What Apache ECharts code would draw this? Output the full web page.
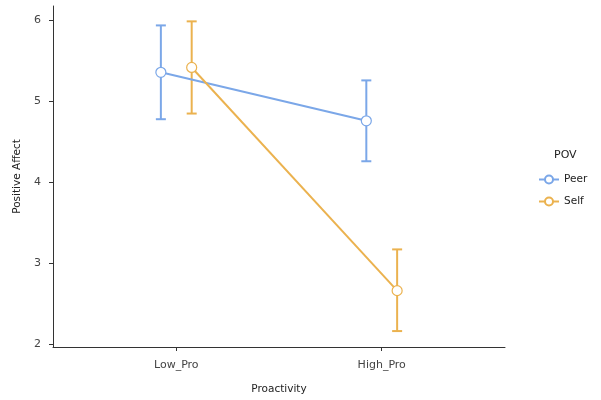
<!DOCTYPE html>
<html><head><meta charset="utf-8">
<script src="https://cdn.jsdelivr.net/npm/echarts@6/dist/echarts.min.js"></script>
<style>html,body{margin:0;padding:0;background:#fff}#c{width:601px;height:400px}</style>
</head><body><div id="c"></div>
<script>
var categories = ['Low_Pro', 'High_Pro'];
var seriesNames = ['Peer', 'Self'];
var peerMean = [5.36, 4.76];
var peerLow = [4.78, 4.26];
var peerHigh = [5.94, 5.26];
var selfMean = [5.42, 2.66];
var selfLow = [4.85, 2.16];
var selfHigh = [5.99, 3.17];
var yTicks = [2, 3, 4, 5, 6];
var dodge = [-0.075, 0.075];
var colors = ['#7ba7e8', '#ebb24f'];

var means = [peerMean, selfMean], lows = [peerLow, selfLow], highs = [peerHigh, selfHigh];
var FONT = 'DejaVu Sans';
var chart = echarts.init(document.getElementById('c'));
var series = [];
seriesNames.forEach(function (name, s) {
  var errData = categories.map(function (c, i) { return [i + 1 + dodge[s], lows[s][i], highs[s][i]]; });
  series.push({
    type: 'custom', name: name + '_err', z: 2, silent: true,
    data: errData,
    renderItem: function (params, api) {
      var x = api.value(0);
      var lo = api.coord([x, api.value(1)]);
      var hi = api.coord([x, api.value(2)]);
      var st = { stroke: colors[s], lineWidth: 2 };
      return { type: 'group', children: [
        { type: 'line', shape: { x1: lo[0], y1: lo[1], x2: hi[0], y2: hi[1] }, style: st },
        { type: 'line', shape: { x1: lo[0] - 5, y1: lo[1], x2: lo[0] + 5, y2: lo[1] }, style: st },
        { type: 'line', shape: { x1: hi[0] - 5, y1: hi[1], x2: hi[0] + 5, y2: hi[1] }, style: st }
      ]};
    }
  });
  series.push({
    type: 'line', name: name, z: 3,
    data: categories.map(function (c, i) { return [i + 1 + dodge[s], means[s][i]]; }),
    symbol: 'circle', symbolSize: 10, showSymbol: true,
    lineStyle: { color: colors[s], width: 2 },
    itemStyle: { color: '#fff', borderColor: colors[s], borderWidth: 1.2 },
    emphasis: { disabled: true }, animation: false
  });
});

chart.setOption({
  animation: false,
  grid: { left: 53, right: 96, top: 6, bottom: 48 },
  title: { text: 'POV', left: 549, top: 145, textStyle: { fontFamily: FONT, fontSize: 11, fontWeight: 'normal', color: '#222' } },
  legend: {
    data: seriesNames, orient: 'vertical', left: 533, top: 169, itemGap: 11,
    itemWidth: 20, itemHeight: 10,
    textStyle: { fontFamily: FONT, fontSize: 10.5, color: '#222' }
  },
  xAxis: {
    type: 'value', min: 0.4, max: 2.6,
    name: 'Proactivity', nameLocation: 'middle', nameGap: 37,
    nameTextStyle: { fontFamily: FONT, fontSize: 10.5, color: '#222' },
    splitLine: { show: false },
    axisLine: { lineStyle: { color: '#333', width: 1 } },
    axisTick: { customValues: [1, 2], length: 4, lineStyle: { color: '#333' } },
    axisLabel: { customValues: [1, 2], fontFamily: FONT, fontSize: 11, color: '#444', margin: 13,
      formatter: function (v) { return categories[Math.round(v) - 1] || ''; } }
  },
  yAxis: {
    type: 'value', min: 1.963, max: 6.18,
    name: 'Positive Affect', nameLocation: 'middle', nameGap: 28, nameRotate: 90,
    nameTextStyle: { fontFamily: FONT, fontSize: 10.5, color: '#222' },
    splitLine: { show: false },
    axisLine: { show: true, lineStyle: { color: '#333', width: 1 } },
    axisTick: { show: true, customValues: yTicks, length: 4, lineStyle: { color: '#333' } },
    axisLabel: { customValues: yTicks, fontFamily: FONT, fontSize: 11, color: '#444', margin: 12 }
  },
  series: series
});
</script></body></html>
